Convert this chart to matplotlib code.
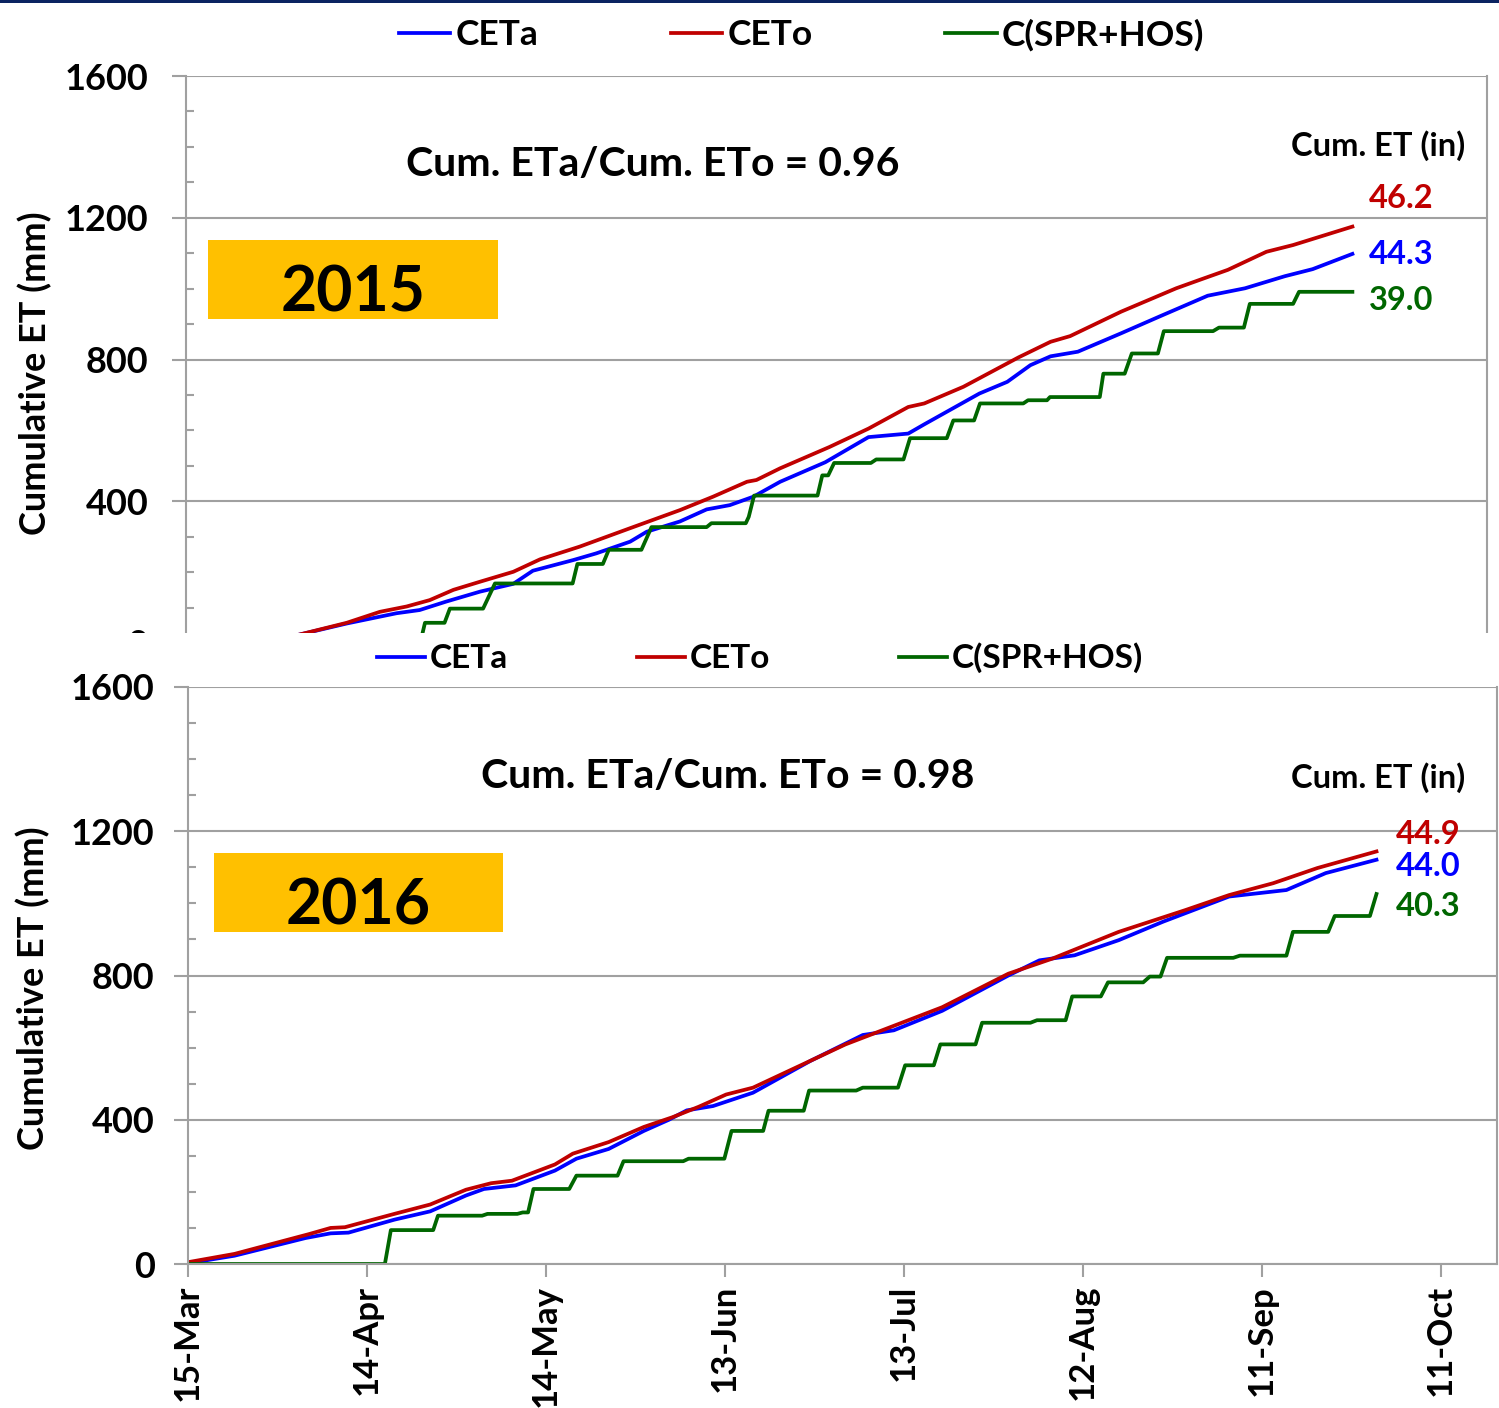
import matplotlib
matplotlib.use("Agg")
import matplotlib.pyplot as plt
from matplotlib.patches import Rectangle
from matplotlib.ticker import MultipleLocator

plt.rcParams['font.family'] = ['Lato', 'DejaVu Sans']
plt.rcParams['font.weight'] = 'bold'

# ---------------- data (x = days after 15-Mar, y = mm) ----------------
x_ticks = [0, 30, 60, 90, 120, 150, 180, 210]
x_tick_labels = ['15-Mar', '14-Apr', '14-May', '13-Jun', '13-Jul', '12-Aug', '11-Sep', '11-Oct']
series_names = ['CETa', 'CETo', 'C(SPR+HOS)']

# 2015
ceto15_day = [10, 18.7, 27.1, 32.7, 37.2, 41.1, 45.1, 49.6, 55.2, 59.7, 66.4, 74.9, 83.3, 88.9, 94.6,
              96.2, 100.2, 108.5, 115.1, 121.8, 124.5, 131.1, 140.4, 145.8, 149.1, 157.7, 167, 171,
              175.7, 182.2, 186.7, 196.7]
ceto15_val = [0, 22, 57, 88, 103, 121, 150, 173, 201, 236, 272, 324, 375, 413, 455,
              460, 493, 553, 605, 666, 676, 723, 806, 850, 866, 935, 1001, 1025,
              1053, 1104, 1123, 1175]
ceta15_day = [10, 18.7, 27.1, 35.5, 39.4, 43.9, 49.6, 55.2, 58.5, 65.3, 69.2, 74.9, 77.7, 83.3, 87.8,
              91.7, 95.7, 100.2, 107.8, 115.1, 121.8, 124.5, 133.8, 138.5, 142.4, 145.8, 150.4,
              157.7, 164.4, 172.3, 178.6, 185.3, 190, 196.7]
ceta15_val = [0, 22, 55, 84, 93, 117, 145, 167, 204, 234, 253, 286, 314, 343, 377,
              389, 413, 455, 510, 581, 591, 617, 704, 737, 784, 809, 822,
              874, 923, 980, 1001, 1035, 1055, 1098]
csh15_day = [10, 39.5, 40.3, 43.6, 44.5, 50.1, 52.1, 65.2, 66, 70.3, 71.3, 76.8, 78.5, 87.8, 88.6,
             94.4, 94.9, 95.8, 106.5, 107.3, 108.3, 109.3, 115.5, 116.4, 121, 122.1, 128.3, 129.4,
             132.9, 133.9, 141.2, 142, 145.2, 145.7, 154.1, 154.7, 158.3, 159.5, 163.9, 164.9,
             173.2, 174.2, 178.4, 179.4, 186.7, 187.7, 196.7]
csh15_val = [0, 0, 57, 57, 97, 97, 168, 168, 223, 223, 263, 263, 327, 327, 338,
             338, 356, 416, 416, 473, 473, 508, 508, 518, 518, 578, 578, 628,
             628, 676, 676, 685, 685, 694, 694, 760, 760, 817, 817, 880,
             880, 890, 890, 957, 957, 991, 991]

# 2016
ceto16_day = [0, 7.8, 20.3, 23.9, 26.3, 34.6, 40.6, 46.6, 50.8, 54.3, 61.5, 64.5, 70.5, 76.4, 81.2,
              85.6, 90.2, 94.7, 110.2, 115.4, 126.4, 137.5, 144.9, 156, 167.1, 174.5, 181.9, 189.3, 199.2]
ceto16_val = [5, 28, 83, 100, 102, 139, 165, 206, 224, 231, 276, 306, 338, 380, 407,
              436, 470, 489, 609, 642, 712, 805, 847, 921, 981, 1023, 1056, 1098, 1144]
ceta16_day = [0, 7.8, 19.7, 23.9, 26.9, 34.6, 40.6, 46.6, 49.6, 54.9, 61.5, 65.1, 70.5, 76.4, 80.6,
              83.6, 88, 94.7, 104.3, 113.1, 118.3, 126.4, 137.5, 142.7, 148.6, 156, 163.4, 174.5,
              184.1, 190.7, 199.2]
ceta16_val = [2, 23, 72, 85, 87, 123, 146, 190, 208, 218, 259, 292, 319, 369, 400,
              426, 438, 475, 563, 635, 648, 702, 800, 842, 856, 898, 949, 1019,
              1037, 1084, 1121]
csh16_day = [0, 33, 34, 41.1, 41.9, 49.3, 50.2, 55.2, 56.1, 57, 57.9, 63.9, 65.1, 72, 73, 83, 83.9,
             89.9, 91.1, 96.4, 97.3, 103.2, 104.1, 112, 113.1, 119, 120.2, 125, 126.1, 132, 133.1,
             141.2, 142.3, 147.1, 148.2, 153, 154.2, 160.1, 161.2, 163, 164.1, 175.2, 176.3, 184.1,
             185.2, 191.1, 192.2, 198.1, 199.2]
csh16_val = [0, 0, 94, 94, 134, 134, 139, 139, 143, 143, 208, 208, 245, 245, 285, 285, 292,
             292, 369, 369, 425, 425, 481, 481, 489, 489, 551, 551, 609, 609, 669,
             669, 676, 676, 742, 742, 781, 781, 797, 797, 849, 849, 855, 855,
             921, 921, 965, 965, 1026]

ratio_text = ['Cum. ETa/Cum. ETo = 0.96', 'Cum. ETa/Cum. ETo = 0.98']
cum_in = [['46.2', '44.3', '39.0'], ['44.9', '44.0', '40.3']]
years = ['2015', '2016']

# ---------------- style ----------------
C_BLUE, C_RED, C_GREEN = '#0000FF', '#C00000', '#006600'
GRAY = '#A0A0A0'
W, H = 1499, 1408
fig = plt.figure(figsize=(W / 100, H / 100), dpi=100)


def fx(px):
    return px / W


def fy(py):
    return 1 - py / H


def style_axes(ax, label_pad, show_x):
    ax.set_xlim(0, 219.4)
    ax.set_ylim(0, 1600)
    ax.set_yticks([0, 400, 800, 1200, 1600])
    ax.yaxis.set_minor_locator(MultipleLocator(100))
    ax.set_xticks(x_ticks)
    if show_x:
        ax.set_xticklabels(x_tick_labels, rotation=90, fontsize=25, fontweight='bold')
    else:
        ax.tick_params(axis='x', labelbottom=False)
    ax.tick_params(axis='x', which='major', direction='out', length=9, width=1.5,
                   color=GRAY, pad=6)
    ax.tick_params(axis='y', which='major', direction='out', length=10, width=1.5,
                   color=GRAY, labelsize=26, pad=label_pad)
    ax.tick_params(axis='y', which='minor', direction='in', length=6, width=1.5, color=GRAY)
    for lab in ax.get_yticklabels():
        lab.set_fontweight('bold')
    for sp in ax.spines.values():
        sp.set_color(GRAY)
        sp.set_linewidth(1.5)
    ax.spines['top'].set_visible(False)
    ax.grid(axis='y', which='major', color=GRAY, linewidth=1.5)
    ax.set_axisbelow(True)
    ax.set_ylabel('Cumulative ET (mm)', fontsize=26, fontweight='bold')


# top panel (2015)
ax1 = fig.add_axes([fx(186), fy(643), fx(1487 - 186), (643 - 76) / H])
ax1.set_zorder(0)
style_axes(ax1, 17, False)
ax1.yaxis.set_label_coords(fx(32) - fx(186), (fy(373) - fy(643)) / ((643 - 76) / H))
l1, = ax1.plot(ceta15_day, ceta15_val, color=C_BLUE, lw=2.7)
l2, = ax1.plot(ceto15_day, ceto15_val, color=C_RED, lw=2.7)
l3, = ax1.plot(csh15_day, csh15_val, color=C_GREEN, lw=2.7)

# white cover (bottom panel overlaps top panel)
fig.patches.append(Rectangle((0, 0), 1, (H - 633) / H, transform=fig.transFigure,
                             facecolor='white', edgecolor='none', zorder=1))
fig.patches.append(Rectangle((0, fy(3)), 1, 3 / H, transform=fig.transFigure,
                             facecolor='#0b2361', edgecolor='none', zorder=6))

# bottom panel (2016)
ax2 = fig.add_axes([fx(188), fy(1264), fx(1497 - 188), (1264 - 687) / H])
ax2.set_zorder(2)
style_axes(ax2, 14, True)
ax2.yaxis.set_label_coords(fx(30) - fx(188), (fy(988) - fy(1264)) / ((1264 - 687) / H))
ax2.plot(ceta16_day, ceta16_val, color=C_BLUE, lw=2.7)
ax2.plot(ceto16_day, ceto16_val, color=C_RED, lw=2.7)
ax2.plot(csh16_day, csh16_val, color=C_GREEN, lw=2.7)

# legends
for (cx, cy, fs, cs) in [((401 + 1202) / 2, 35, 25.5, 3.75), ((380 + 1140) / 2, 658, 24, 3.85)]:
    lg = fig.legend([l1, l2, l3], series_names, loc='center', ncol=3,
                    bbox_to_anchor=(fx(cx), fy(cy)), frameon=False,
                    prop={'size': fs, 'weight': 'bold'}, handlelength=1.45,
                    handletextpad=0.15, columnspacing=cs, borderpad=0.1)
    lg.set_zorder(7)

# annotations
ann = [
    dict(ratio=(653, 164), hdr=(1465, 146), vals=[(1369, 199), (1369, 254), (1369, 301)],
         box=(208, 240, 498, 319), year=0),
    dict(ratio=(728, 777), hdr=(1465, 778), vals=[(1396, 835), (1396, 866), (1396, 906)],
         box=(214, 853, 503, 932), year=1),
]
for a in ann:
    i = a['year']
    fig.text(fx(a['ratio'][0]), fy(a['ratio'][1]), ratio_text[i], ha='center', va='center',
             fontsize=29.5, fontweight='bold', zorder=7)
    fig.text(fx(a['hdr'][0]), fy(a['hdr'][1]), 'Cum. ET (in)', ha='right', va='center',
             fontsize=23.5, fontweight='bold', zorder=7)
    for (px, py), txt, col in zip(a['vals'], cum_in[i], [C_RED, C_BLUE, C_GREEN]):
        fig.text(fx(px), fy(py), txt, ha='left', va='center', fontsize=23.5,
                 fontweight='bold', color=col, zorder=7)
    x0, y0, x1, y1 = a['box']
    fig.patches.append(Rectangle((fx(x0), fy(y1)), fx(x1 - x0), (y1 - y0) / H,
                                 transform=fig.transFigure, facecolor='#FFC000',
                                 edgecolor='none', zorder=7))
    fig.text(fx((x0 + x1) / 2), fy((y0 + y1) / 2 + 32), years[i], ha='center',
             va='baseline', fontsize=45, fontweight='bold', zorder=8)

fig.savefig('out.png', dpi=100, facecolor='white')
